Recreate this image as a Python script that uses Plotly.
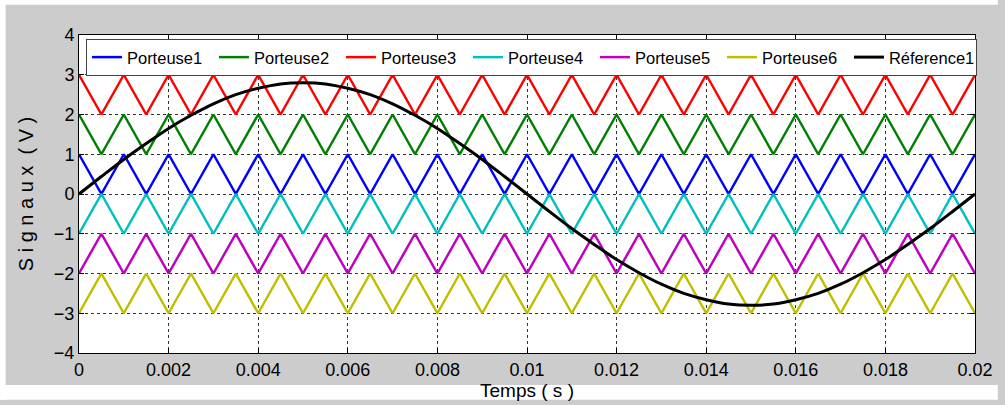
import plotly.graph_objects as go

# ---------------- data ----------------
t_carrier = [0, 0.0005, 0.001, 0.0015, 0.002, 0.0025, 0.003, 0.0035, 0.004, 0.0045,
             0.005, 0.0055, 0.006, 0.0065, 0.007, 0.0075, 0.008, 0.0085, 0.009, 0.0095,
             0.01, 0.0105, 0.011, 0.0115, 0.012, 0.0125, 0.013, 0.0135, 0.014, 0.0145,
             0.015, 0.0155, 0.016, 0.0165, 0.017, 0.0175, 0.018, 0.0185, 0.019, 0.0195, 0.02]

porteuse1 = [1, 0, 1, 0, 1, 0, 1, 0, 1, 0, 1, 0, 1, 0, 1, 0, 1, 0, 1, 0,
             1, 0, 1, 0, 1, 0, 1, 0, 1, 0, 1, 0, 1, 0, 1, 0, 1, 0, 1, 0, 1]
porteuse2 = [2, 1, 2, 1, 2, 1, 2, 1, 2, 1, 2, 1, 2, 1, 2, 1, 2, 1, 2, 1,
             2, 1, 2, 1, 2, 1, 2, 1, 2, 1, 2, 1, 2, 1, 2, 1, 2, 1, 2, 1, 2]
porteuse3 = [3, 2, 3, 2, 3, 2, 3, 2, 3, 2, 3, 2, 3, 2, 3, 2, 3, 2, 3, 2,
             3, 2, 3, 2, 3, 2, 3, 2, 3, 2, 3, 2, 3, 2, 3, 2, 3, 2, 3, 2, 3]
porteuse4 = [-1, 0, -1, 0, -1, 0, -1, 0, -1, 0, -1, 0, -1, 0, -1, 0, -1, 0, -1, 0,
             -1, 0, -1, 0, -1, 0, -1, 0, -1, 0, -1, 0, -1, 0, -1, 0, -1, 0, -1, 0, -1]
porteuse5 = [-2, -1, -2, -1, -2, -1, -2, -1, -2, -1, -2, -1, -2, -1, -2, -1, -2, -1, -2, -1,
             -2, -1, -2, -1, -2, -1, -2, -1, -2, -1, -2, -1, -2, -1, -2, -1, -2, -1, -2, -1, -2]
porteuse6 = [-3, -2, -3, -2, -3, -2, -3, -2, -3, -2, -3, -2, -3, -2, -3, -2, -3, -2, -3, -2,
             -3, -2, -3, -2, -3, -2, -3, -2, -3, -2, -3, -2, -3, -2, -3, -2, -3, -2, -3, -2, -3]

t_reference = t_carrier
reference1 = [0.00, 0.44, 0.87, 1.27, 1.65, 1.98, 2.27, 2.50, 2.66, 2.77,
              2.80, 2.77, 2.66, 2.50, 2.27, 1.98, 1.65, 1.27, 0.87, 0.44,
              0.00, -0.44, -0.87, -1.27, -1.65, -1.98, -2.27, -2.50, -2.66, -2.77,
              -2.80, -2.77, -2.66, -2.50, -2.27, -1.98, -1.65, -1.27, -0.87, -0.44, 0.00]

series_names = ["Porteuse1", "Porteuse2", "Porteuse3", "Porteuse4", "Porteuse5", "Porteuse6"]
series_values = [porteuse1, porteuse2, porteuse3, porteuse4, porteuse5, porteuse6]
series_colors = ["#0000ff", "#008000", "#ff0000", "#00bfbf", "#bf00bf", "#bfbf00"]

x_ticks = [0, 0.002, 0.004, 0.006, 0.008, 0.01, 0.012, 0.014, 0.016, 0.018, 0.02]
x_tick_labels = ["0", "0.002", "0.004", "0.006", "0.008", "0.01", "0.012", "0.014", "0.016", "0.018", "0.02"]
y_ticks = [-4, -3, -2, -1, 0, 1, 2, 3, 4]

# ---------------- figure ----------------
fig = go.Figure()
for name, vals, col in zip(series_names, series_values, series_colors):
    fig.add_trace(go.Scatter(x=t_carrier, y=vals, mode="lines", name=name,
                             line=dict(color=col, width=2.5)))
fig.add_trace(go.Scatter(x=t_reference, y=reference1, mode="lines", name="Réference1",
                         line=dict(color="black", width=3, shape="spline")))

L, R, T, B = 79, 982, 35, 362
W, H = R - L, B - T

def px(x):
    return (x - L) / W

def py(y):
    return (B - y) / H

FONT = "Liberation Sans, Arial, sans-serif"

fig.update_layout(
    width=1005, height=405,
    margin=dict(l=L, r=1005 - R, t=T, b=405 - B, pad=0),
    paper_bgcolor="#cccccc",
    plot_bgcolor="white",
    font=dict(family=FONT, color="black", size=16),
    showlegend=True,
    legend=dict(
        orientation="h",
        x=px(86), y=py(39), xanchor="left", yanchor="top",
        bgcolor="white", bordercolor="#444444", borderwidth=1,
        font=dict(family=FONT, size=16.5, color="black"),
        entrywidth=82, entrywidthmode="pixels",
        itemwidth=30,
        tracegroupgap=0,
    ),
    shapes=[
        dict(type="rect", xref="paper", yref="paper", x0=px(0), x1=px(1005), y0=py(4), y1=py(-5),
             fillcolor="white", line=dict(width=0), layer="above"),
        dict(type="rect", xref="paper", yref="paper", x0=px(-5), x1=px(5), y0=py(410), y1=py(-5),
             fillcolor="white", line=dict(width=0), layer="above"),
        dict(type="rect", xref="paper", yref="paper", x0=px(0), x1=px(1005), y0=py(410), y1=py(395),
             fillcolor="white", line=dict(width=0), layer="above"),
    ],
)

fig.update_xaxes(
    range=[0, 0.02], tickvals=x_ticks, ticktext=x_tick_labels,
    showline=True, linecolor="black", linewidth=1, mirror="ticks",
    ticks="inside", ticklen=5, tickcolor="black",
    showgrid=True, gridcolor="#333333", gridwidth=1, griddash="dot",
    zeroline=False, tickfont=dict(size=18, family=FONT),
    title=dict(text="Temps ( s )", font=dict(size=19, family=FONT), standoff=0),
)
fig.update_yaxes(
    range=[-4, 4], tickvals=y_ticks,
    showline=True, linecolor="black", linewidth=1, mirror="ticks",
    ticks="inside", ticklen=5, tickcolor="black",
    showgrid=True, gridcolor="#333333", gridwidth=1, griddash="dot",
    zeroline=False, tickfont=dict(size=18, family=FONT),
    title=dict(text="S i g n a u x  ( V )", font=dict(size=20, family=FONT), standoff=14),
)

fig.write_html("out.html")
